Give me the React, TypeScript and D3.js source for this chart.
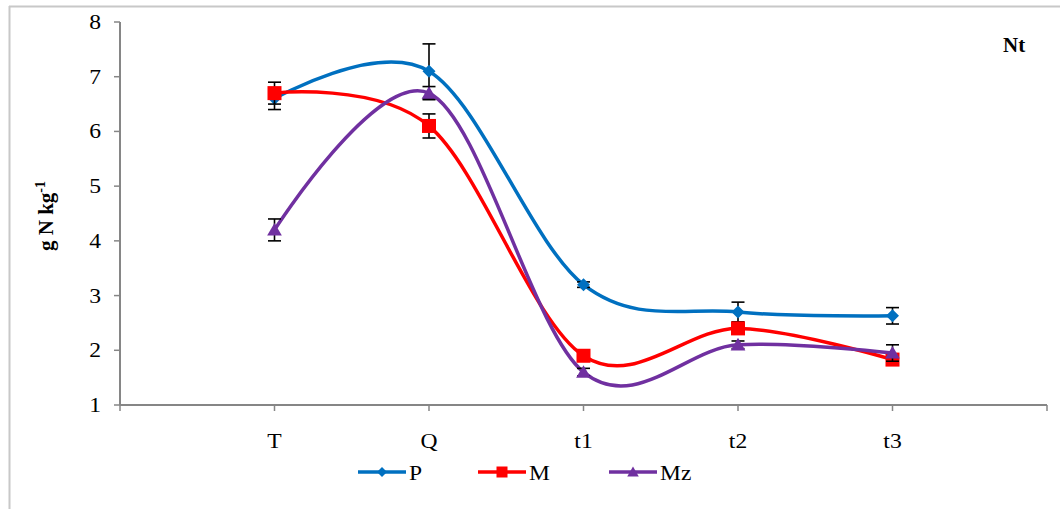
import React from "react";
import * as d3 from "d3";

const categories = ["T", "Q", "t1", "t2", "t3"];
const seriesNames = ["P", "M", "Mz"];
const seriesColors = ["#0070C0", "#FF0000", "#7030A0"];
const valuesP = [6.6, 7.1, 3.2, 2.7, 2.63];
const valuesM = [6.7, 6.1, 1.9, 2.4, 1.83];
const valuesMz = [4.2, 6.7, 1.6, 2.1, 1.95];
const errP = [0.2, 0.5, 0.05, 0.18, 0.15];
const errM = [0.2, 0.22, 0.06, 0.08, 0.05];
const errMz = [0.2, 0.12, 0.07, 0.07, 0.15];
const yTicks = [1, 2, 3, 4, 5, 6, 7, 8];

const W = 1060;
const H = 509;
const plot = { left: 120, right: 1047, top: 22, bottom: 405 };

const x = d3.scaleLinear().domain([0, categories.length + 1]).range([plot.left, plot.right]);
const y = d3.scaleLinear().domain([1, 8]).range([plot.bottom, plot.top]);

const line = d3
  .line<number>()
  .x((_, i) => x(i + 1))
  .y((d) => y(d))
  .curve(d3.curveCardinal.tension(0));

const series = [
  { name: seriesNames[0], color: seriesColors[0], values: valuesP, err: errP, shape: "diamond" },
  { name: seriesNames[1], color: seriesColors[1], values: valuesM, err: errM, shape: "square" },
  { name: seriesNames[2], color: seriesColors[2], values: valuesMz, err: errMz, shape: "triangle" },
];

function Marker({ shape, cx, cy, color, s }: { shape: string; cx: number; cy: number; color: string; s: number }) {
  if (shape === "diamond") {
    return <path d={`M${cx},${cy - s}L${cx + s},${cy}L${cx},${cy + s}L${cx - s},${cy}Z`} fill={color} />;
  }
  if (shape === "square") {
    return <rect x={cx - s} y={cy - s} width={2 * s} height={2 * s} fill={color} />;
  }
  return <path d={`M${cx},${cy - s}L${cx + s * 1.05},${cy + s * 0.8}L${cx - s * 1.05},${cy + s * 0.8}Z`} fill={color} />;
}

const axisColor = "#868686";
const font = "'Liberation Serif', 'Times New Roman', serif";
const SX = 1.18; // horizontal stretch of the labels

export default function App() {
  const xTickVals = d3.range(0, categories.length + 2);
  const legendX = [358, 478, 609];
  return (
    <svg width={W} height={H} style={{ position: "absolute", left: 0, top: 0 }} fontFamily={font}>
      <rect x={0} y={0} width={W} height={H} fill="#fff" />
      {/* outer frame */}
      <line x1={9.5} y1={6} x2={9.5} y2={H} stroke="#c8c8c8" strokeWidth={2} />
      <line x1={9} y1={6.5} x2={W} y2={6.5} stroke="#c8c8c8" strokeWidth={2} />

      {/* y axis */}
      <line x1={plot.left} y1={y(8)} x2={plot.left} y2={y(1)} stroke={axisColor} strokeWidth={2} />
      {yTicks.map((t) => (
        <g key={t}>
          <line x1={plot.left - 6} x2={plot.left} y1={y(t)} y2={y(t)} stroke={axisColor} strokeWidth={1.5} />
          <text transform={`translate(101,${y(t)}) scale(${SX},1)`} dy="0.35em" textAnchor="end" fontSize={20}>
            {t}
          </text>
        </g>
      ))}

      {/* x axis */}
      <line x1={plot.left} y1={plot.bottom} x2={plot.right} y2={plot.bottom} stroke={axisColor} strokeWidth={2} />
      {xTickVals.map((v) => (
        <line key={v} x1={x(v)} x2={x(v)} y1={plot.bottom} y2={plot.bottom + 6} stroke={axisColor} strokeWidth={1.5} />
      ))}
      {categories.map((c, i) => (
        <text key={c} transform={`translate(${x(i + 1)},448) scale(${SX},1)`} textAnchor="middle" fontSize={20}>
          {c}
        </text>
      ))}

      {/* axis title */}
      <text transform="translate(53,216) rotate(-90)" textAnchor="middle" fontSize={21} fontWeight="bold">
        g N kg
        <tspan dy={-8} fontSize={14}>
          -1
        </tspan>
      </text>
      <text transform="translate(1003,52) scale(1.05,1)" fontSize={20} fontWeight="bold">
        Nt
      </text>

      {/* series */}
      {series.map((s) => (
        <g key={s.name}>
          <path d={line(s.values) ?? ""} fill="none" stroke={s.color} strokeWidth={3.5} />
          {s.values.map((v, i) => {
            const cx = x(i + 1);
            const top = y(v + s.err[i]);
            const bot = y(v - s.err[i]);
            return (
              <g key={i} stroke="#000" strokeWidth={1.6}>
                <line x1={cx} x2={cx} y1={top} y2={bot} />
                <line x1={cx - 6.5} x2={cx + 6.5} y1={top} y2={top} />
                <line x1={cx - 6.5} x2={cx + 6.5} y1={bot} y2={bot} />
              </g>
            );
          })}
          {s.values.map((v, i) => (
            <Marker key={i} shape={s.shape} cx={x(i + 1)} cy={y(v)} color={s.color} s={s.shape === "diamond" ? 6.5 : 7} />
          ))}
        </g>
      ))}

      {/* legend */}
      {series.map((s, i) => (
        <g key={s.name}>
          <line x1={legendX[i]} x2={legendX[i] + 48} y1={472} y2={472} stroke={s.color} strokeWidth={3.5} />
          <Marker shape={s.shape} cx={legendX[i] + 24} cy={472} color={s.color} s={s.shape === "diamond" ? 5 : 5.5} />
          <text transform={`translate(${legendX[i] + 51},480) scale(1.12,1)`} fontSize={21}>
            {s.name}
          </text>
        </g>
      ))}
    </svg>
  );
}
